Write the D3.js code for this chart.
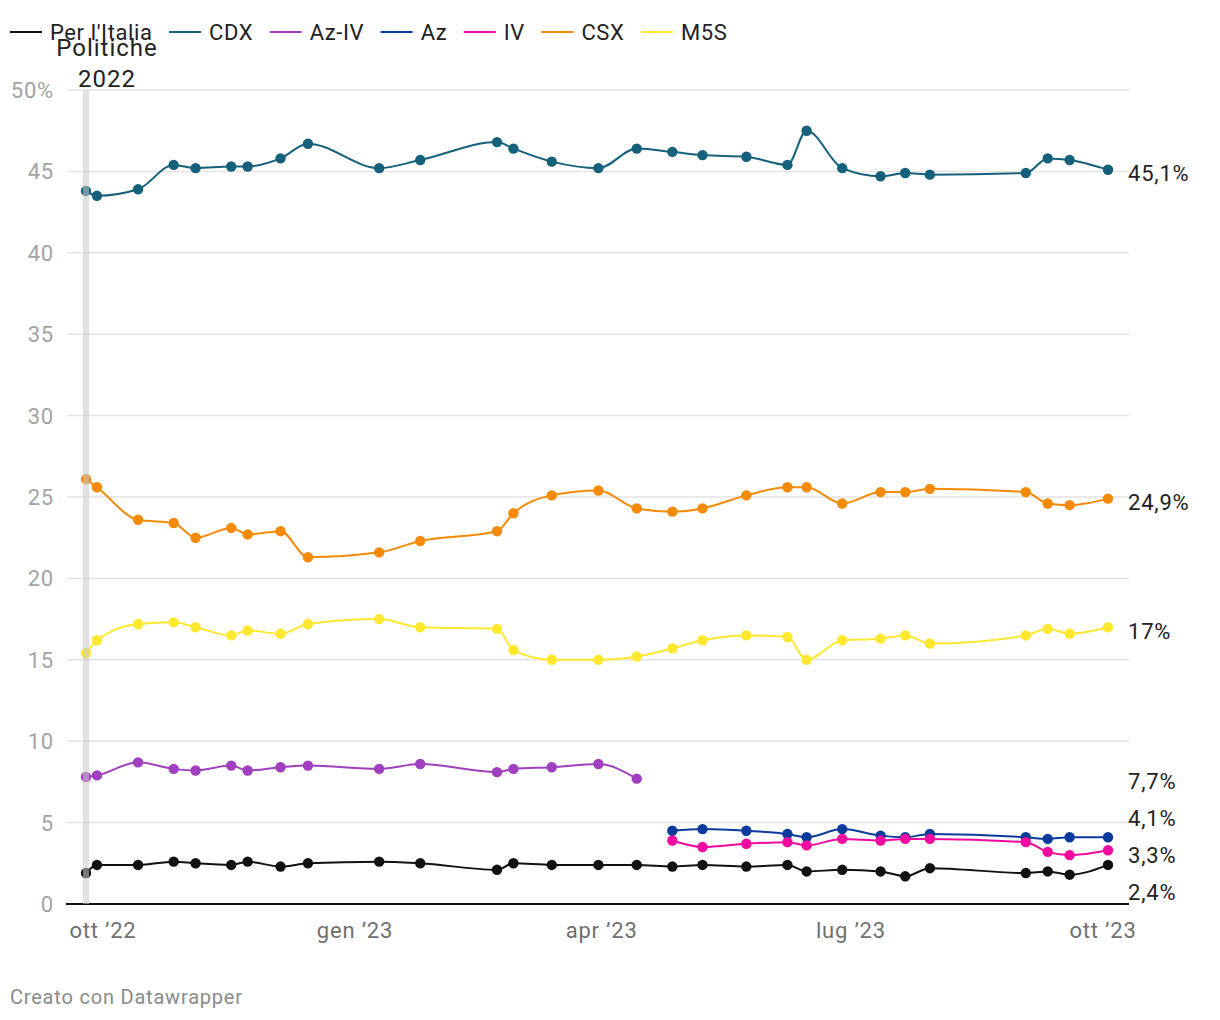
<!DOCTYPE html>
<html><head><meta charset="utf-8">
<script src="https://cdn.jsdelivr.net/npm/d3@7"></script>
<style>
body{margin:0;background:#fff;font-family:Roboto,"Noto Sans",sans-serif;}
svg{display:block}
text{letter-spacing:0.8px}
</style></head><body>
<svg id="c" width="1220" height="1020"></svg>
<script>
const dates = ["2022-09-25","2022-09-29","2022-10-14","2022-10-27","2022-11-04","2022-11-17","2022-11-23","2022-12-05","2022-12-15","2023-01-10","2023-01-25","2023-02-22","2023-02-28","2023-03-14","2023-03-31","2023-04-14","2023-04-27","2023-05-08","2023-05-24","2023-06-08","2023-06-15","2023-06-28","2023-07-12","2023-07-21","2023-07-30","2023-09-03","2023-09-11","2023-09-19","2023-10-03"];
const perItalia = [1.9,2.4,2.4,2.6,2.5,2.4,2.6,2.3,2.5,2.6,2.5,2.1,2.5,2.4,2.4,2.4,2.3,2.4,2.3,2.4,2.0,2.1,2.0,1.7,2.2,1.9,2.0,1.8,2.4];
const cdx = [43.8,43.5,43.9,45.4,45.2,45.3,45.3,45.8,46.7,45.2,45.7,46.8,46.4,45.6,45.2,46.4,46.2,46.0,45.9,45.4,47.5,45.2,44.7,44.9,44.8,44.9,45.8,45.7,45.1];
const azIv = [7.8,7.9,8.7,8.3,8.2,8.5,8.2,8.4,8.5,8.3,8.6,8.1,8.3,8.4,8.6,7.7,null,null,null,null,null,null,null,null,null,null,null,null,null];
const az = [null,null,null,null,null,null,null,null,null,null,null,null,null,null,null,null,4.5,4.6,4.5,4.3,4.1,4.6,4.2,4.1,4.3,4.1,4.0,4.1,4.1];
const iv = [null,null,null,null,null,null,null,null,null,null,null,null,null,null,null,null,3.9,3.5,3.7,3.8,3.6,4.0,3.9,4.0,4.0,3.8,3.2,3.0,3.3];
const csx = [26.1,25.6,23.6,23.4,22.5,23.1,22.7,22.9,21.3,21.6,22.3,22.9,24.0,25.1,25.4,24.3,24.1,24.3,25.1,25.6,25.6,24.6,25.3,25.3,25.5,25.3,24.6,24.5,24.9];
const m5s = [15.4,16.2,17.2,17.3,17.0,16.5,16.8,16.6,17.2,17.5,17.0,16.9,15.6,15.0,15.0,15.2,15.7,16.2,16.5,16.4,15.0,16.2,16.3,16.5,16.0,16.5,16.9,16.6,17.0];
const seriesNames = ["Per l'Italia","CDX","Az-IV","Az","IV","CSX","M5S"];
const seriesColors = ["#111111","#15607a","#a03fbf","#0a3a9c","#f20aa0","#f58a07","#fde82f"];
const seriesValues = [perItalia,cdx,azIv,az,iv,csx,m5s];
const yTicks = [0,5,10,15,20,25,30,35,40,45,50];
const xTickDates = ["2022-10-01","2023-01-01","2023-04-01","2023-07-01","2023-10-01"];
const xTickLabels = ["ott \u201922","gen \u201923","apr \u201923","lug \u201923","ott \u201923"];
const eventDate = "2022-09-25";
const eventLabel = ["Politiche","2022"];

const parse = d3.utcParse("%Y-%m-%d");
const svg = d3.select("#c");
const x = d3.scaleUtc().domain(d3.extent(dates, parse)).range([86,1108]);
const y = d3.scaleLinear().domain([0,50]).range([904,90]);
const fmt = v => String(v).replace(".", ",") + "%";

// grid
svg.append("g").selectAll("line").data(yTicks.filter(t=>t>0)).join("line")
  .attr("x1",67).attr("x2",1129).attr("y1",d=>y(d)).attr("y2",d=>y(d))
  .attr("stroke","#e3e3e3").attr("stroke-width",1.5);
// y labels
svg.append("g").selectAll("text").data(yTicks).join("text")
  .attr("x",54).attr("y",d=>y(d)).attr("dy","0.36em").attr("text-anchor","end")
  .attr("fill","#a3a3a3").attr("font-size",22)
  .text(d=>d===50?"50%":d);
// x axis
const xAxis = d3.axisBottom(x).tickValues(xTickDates.map(parse)).tickSize(0)
  .tickFormat((d,i)=>xTickLabels[i]);
const gx = svg.append("g").attr("transform","translate(0,904)").call(xAxis);
gx.select(".domain").remove();
gx.selectAll("text").attr("font-size",22).attr("fill","#707070").attr("font-family","Roboto").attr("dy","1.4em");
svg.append("line").attr("x1",66).attr("x2",1129).attr("y1",y(0)).attr("y2",y(0)).attr("stroke","#111").attr("stroke-width",2);

// lines
const line = d3.line().defined(d=>d.v!=null).x(d=>x(d.date)).y(d=>y(d.v)).curve(d3.curveMonotoneX);
const order = [6,5,1,2,3,4,0];
order.forEach(i=>{
  const data = dates.map((d,j)=>({date:parse(d), v:seriesValues[i][j]}));
  const g = svg.append("g");
  g.append("path").datum(data).attr("d",line).attr("fill","none")
    .attr("stroke",seriesColors[i]).attr("stroke-width",2);
  g.selectAll("circle").data(data.filter(d=>d.v!=null)).join("circle")
    .attr("cx",d=>x(d.date)).attr("cy",d=>y(d.v)).attr("r",5.2).attr("fill",seriesColors[i]);
});

// event band
svg.append("rect").attr("x",x(parse(eventDate))-3).attr("width",6)
  .attr("y",y(50)).attr("height",y(0)-y(50)).attr("fill","#c8c8c8").attr("opacity",0.55);
svg.append("text").attr("y",56).attr("text-anchor","middle")
  .attr("font-size",24).attr("fill","#222").style("letter-spacing","1px")
  .selectAll("tspan").data(eventLabel).join("tspan")
  .attr("x",x(parse(eventDate))+21).attr("dy",(d,i)=>i?31:0).text(d=>d);

// right labels with dodging
const labels = [];
seriesValues.forEach((vals,i)=>{
  let idx = vals.length-1; while(idx>=0 && vals[idx]==null) idx--;
  if(idx<0) return;
  const val = vals[idx];
  labels.push({name:seriesNames[i], v:val, y0:y(val)+4, y:y(val)+4});
});
labels.sort((a,b)=>a.y0-b.y0);
const gap = 37;
for(let it=0; it<200; it++){
  let moved=false;
  for(let k=1;k<labels.length;k++){
    const a=labels[k-1], b=labels[k];
    if(b.y-a.y<gap-0.01){const d=(gap-(b.y-a.y))/2; a.y-=d; b.y+=d; moved=true;}
  }
  if(!moved) break;
}
svg.append("g").selectAll("text").data(labels).join("text")
  .attr("x",1128).attr("y",d=>d.y).attr("dy","0.35em").attr("font-size",22).attr("fill","#222")
  .text(d=>fmt(d.v));

// legend
const legend = svg.append("g").attr("transform","translate(10,32)");
let lx = 0;
seriesNames.forEach((n,i)=>{
  const g = legend.append("g").attr("transform",`translate(${lx},0)`);
  g.append("line").attr("x1",0).attr("x2",32).attr("y1",0).attr("y2",0).attr("stroke",seriesColors[i]).attr("stroke-width",2);
  const t = g.append("text").attr("x",40).attr("dy","0.35em").attr("font-size",22).attr("fill","#222").style("letter-spacing","0.6px").text(n);
  lx += 40 + t.node().getComputedTextLength() + 16.5;
});

// footer
svg.append("text").attr("x",10).attr("y",1004).attr("font-size",20).attr("fill","#8a8a8a").text("Creato con Datawrapper");
</script>
</body></html>
